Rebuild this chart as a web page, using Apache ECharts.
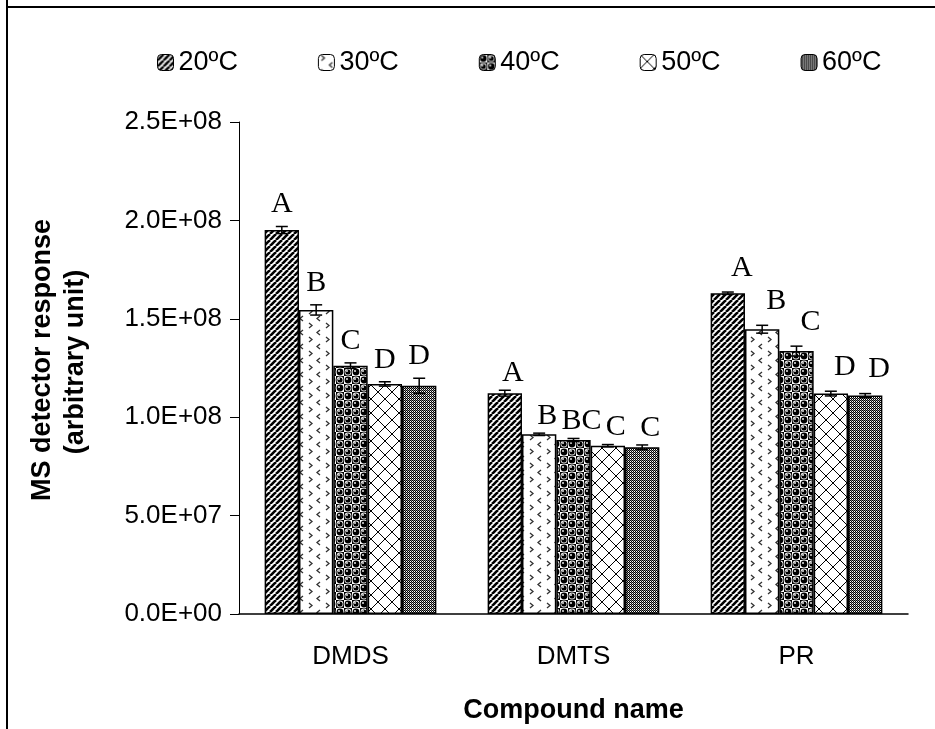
<!DOCTYPE html>
<html>
<head>
<meta charset="utf-8">
<script src="https://cdn.jsdelivr.net/npm/echarts@6/dist/echarts.min.js"></script>
<style>
  html, body { margin: 0; padding: 0; background: #fff; }
  #chart { width: 935px; height: 729px; }
</style>
</head>
<body>
<div id="chart"></div>
<script>
// Compounds on the x axis
const compounds = ['DMDS', 'DMTS', 'PR'];
// Extraction temperatures (one bar series each)
const temperatures = ['20ºC', '30ºC', '40ºC', '50ºC', '60ºC'];

// Mean MS detector response per temperature, ordered DMDS, DMTS, PR
const resp20 = [1.951e8, 1.122e8, 1.630e8];
const resp30 = [1.545e8, 0.913e8, 1.447e8];
const resp40 = [1.262e8, 0.884e8, 1.336e8];
const resp50 = [1.169e8, 0.855e8, 1.120e8];
const resp60 = [1.160e8, 0.847e8, 1.110e8];

// Standard deviations (error bars)
const err20 = [1.8e6, 1.5e6, 0.6e6];
const err30 = [2.6e6, 0.6e6, 2.0e6];
const err40 = [1.4e6, 0.8e6, 2.5e6];
const err50 = [1.1e6, 0.6e6, 1.2e6];
const err60 = [3.8e6, 1.2e6, 1.0e6];

// Significance letters
const sig20 = ['A', 'A', 'A'];
const sig30 = ['B', 'B', 'B'];
const sig40 = ['C', 'BC', 'C'];
const sig50 = ['D', 'C', 'D'];
const sig60 = ['D', 'C', 'D'];

// Y axis tick values
const yTicks = [0, 5e7, 1e8, 1.5e8, 2e8, 2.5e8];

const responses = [resp20, resp30, resp40, resp50, resp60];
const errors = [err20, err30, err40, err50, err60];
const letters = [sig20, sig30, sig40, sig50, sig60];

// ---- fill patterns drawn on small canvases ----
function tile(w, h, draw) {
  const c = document.createElement('canvas');
  c.width = w; c.height = h;
  const g = c.getContext('2d');
  g.fillStyle = '#fff';
  g.fillRect(0, 0, w, h);
  draw(g, w, h);
  return { image: c, repeat: 'repeat' };
}

const patterns = [
  // dense diagonal hatch
  tile(6, 6, (g, w, h) => {
    g.strokeStyle = '#000'; g.lineWidth = 2.6;
    for (let k = -w; k <= w; k += w) {
      g.beginPath(); g.moveTo(k, h); g.lineTo(k + w, 0); g.stroke();
    }
  }),
  // sparse chevrons on white
  tile(17, 14, (g) => {
    g.strokeStyle = '#333'; g.lineWidth = 1.3;
    g.beginPath();
    g.moveTo(3, 1); g.lineTo(6, 3.5); g.lineTo(3, 6);
    g.moveTo(14, 8); g.lineTo(11, 10.5); g.lineTo(14, 13);
    g.stroke();
  }),
  // black balls on a grid
  tile(16, 16, (g) => {
    g.fillStyle = '#000';
    g.fillRect(8, 0, 8, 8);
    g.fillRect(0, 8, 8, 8);
    g.beginPath(); g.arc(4, 4, 3.4, 0, Math.PI * 2); g.fill();
    g.beginPath(); g.arc(12, 12, 3.4, 0, Math.PI * 2); g.fill();
    g.fillStyle = '#fff';
    g.beginPath(); g.arc(12, 4, 3.4, 0, Math.PI * 2); g.fill();
    g.beginPath(); g.arc(4, 12, 3.4, 0, Math.PI * 2); g.fill();
    g.fillStyle = '#000';
    g.beginPath(); g.arc(12, 4, 2.6, 0, Math.PI * 2); g.fill();
    g.beginPath(); g.arc(4, 12, 2.6, 0, Math.PI * 2); g.fill();
    g.fillStyle = '#fff';
    [[3, 3], [11, 11], [11, 3], [3, 11]].forEach(([x, y]) => {
      g.beginPath(); g.arc(x, y, 0.9, 0, Math.PI * 2); g.fill();
    });
  }),
  // diagonal cross-hatch
  tile(14, 14, (g, w, h) => {
    g.strokeStyle = '#000'; g.lineWidth = 1;
    g.beginPath();
    g.moveTo(0, 0); g.lineTo(w, h);
    g.moveTo(0, h); g.lineTo(w, 0);
    g.stroke();
  }),
  // fine checker
  tile(2, 2, (g) => {
    g.fillStyle = '#000';
    g.fillRect(0, 0, 1, 1);
    g.fillRect(1, 1, 1, 1);
    g.fillStyle = '#888';
    g.fillRect(1, 0, 1, 1);
  })
];

const CAT_GAP = 0.23;

function sci(v) {
  if (v === 0) return '0.0E+00';
  const e = Math.floor(Math.log10(v));
  const m = v / Math.pow(10, e);
  return m.toFixed(1) + 'E+' + String(e).padStart(2, '0');
}

const barSeries = temperatures.map((t, i) => ({
  name: t,
  type: 'bar',
  data: responses[i],
  barGap: '0%',
  barCategoryGap: (CAT_GAP * 100) + '%',
  itemStyle: { color: patterns[i], borderColor: '#000', borderWidth: 1.5 },
  emphasis: { disabled: true },
  z: 2
}));

// error bars + letters as one custom series
const errData = [];
responses.forEach((arr, s) => {
  arr.forEach((v, c) => errData.push([c, s, v, errors[s][c]]));
});
// letter placement per compound group: horizontal nudge and lift above whisker
const letterDx = [0, 8, 14];
const letterLift = [12, 7, 14];

const errSeries = {
  type: 'custom',
  name: 'err',
  data: errData,
  z: 5,
  silent: true,
  renderItem(params, api) {
    const c = api.value(0), s = api.value(1), v = api.value(2), e = api.value(3);
    const band = api.size([1, 0])[0];
    const bw = band * (1 - CAT_GAP) / temperatures.length;
    const cx = api.coord([c, 0])[0];
    const x = cx - bw * temperatures.length / 2 + (s + 0.5) * bw;
    const yT = api.coord([c, v + e])[1];
    const yB = api.coord([c, v - e])[1];
    const hw = 6;
    const ls = { stroke: '#000', lineWidth: 1.5 };
    return {
      type: 'group',
      children: [
        { type: 'line', shape: { x1: x, y1: yT, x2: x, y2: yB }, style: ls },
        { type: 'line', shape: { x1: x - hw, y1: yT, x2: x + hw, y2: yT }, style: ls },
        { type: 'line', shape: { x1: x - hw, y1: yB, x2: x + hw, y2: yB }, style: ls },
        {
          type: 'text',
          style: {
            x: x + letterDx[c], y: yT - letterLift[c] + 5,
            text: letters[s][c],
            font: '30px "Liberation Serif", "Times New Roman", serif',
            fill: '#000', align: 'center', verticalAlign: 'bottom'
          }
        }
      ]
    };
  }
};

const chart = echarts.init(document.getElementById('chart'), null, { renderer: 'canvas' });
const SANS = '"Liberation Sans", Arial, sans-serif';

chart.setOption({
  animation: false,
  backgroundColor: '#fff',
  textStyle: { fontFamily: SANS, color: '#000' },
  legend: {
    data: temperatures,
    top: 44,
    left: 152,
    itemWidth: 16,
    itemHeight: 16,
    itemGap: 80,
    textStyle: { fontSize: 27, fontFamily: SANS, color: '#000' },
    itemStyle: { borderColor: '#000', borderWidth: 1 }
  },
  grid: { left: 239, right: 27, top: 122, bottom: 115, containLabel: false },
  xAxis: {
    type: 'category',
    data: compounds,
    name: 'Compound name',
    nameLocation: 'middle',
    nameGap: 83,
    nameTextStyle: { fontSize: 27, fontWeight: 'bold', fontFamily: SANS, color: '#000' },
    axisLine: { lineStyle: { color: '#000', width: 1.5 } },
    axisTick: { length: 9, lineStyle: { color: '#000' } },
    axisLabel: { fontSize: 26, margin: 30, color: '#000', fontFamily: SANS }
  },
  yAxis: {
    type: 'value',
    min: yTicks[0],
    max: yTicks[yTicks.length - 1],
    interval: yTicks[1] - yTicks[0],
    splitLine: { show: false },
    axisLine: { show: true, lineStyle: { color: '#000', width: 1 } },
    axisTick: { show: true, inside: false, length: 9, lineStyle: { color: '#000' } },
    axisLabel: { fontSize: 26, margin: 17, color: '#000', fontFamily: SANS, formatter: sci }
  },
  series: [...barSeries, errSeries],
  graphic: [
    // frame
    { type: 'line', shape: { x1: 7, y1: 0, x2: 7, y2: 729 }, style: { stroke: '#000', lineWidth: 2 } },
    { type: 'line', shape: { x1: 7, y1: 7, x2: 935, y2: 7 }, style: { stroke: '#000', lineWidth: 2 } },
    // y axis title (two lines)
    {
      type: 'text', x: 43, y: 360, rotation: Math.PI / 2,
      style: { text: 'MS detector response', font: 'bold 27px ' + SANS, fill: '#000', align: 'center', verticalAlign: 'middle' }
    },
    {
      type: 'text', x: 76, y: 362, rotation: Math.PI / 2,
      style: { text: '(arbitrary unit)', font: 'bold 27px ' + SANS, fill: '#000', align: 'center', verticalAlign: 'middle' }
    }
  ]
});
</script>
</body>
</html>
